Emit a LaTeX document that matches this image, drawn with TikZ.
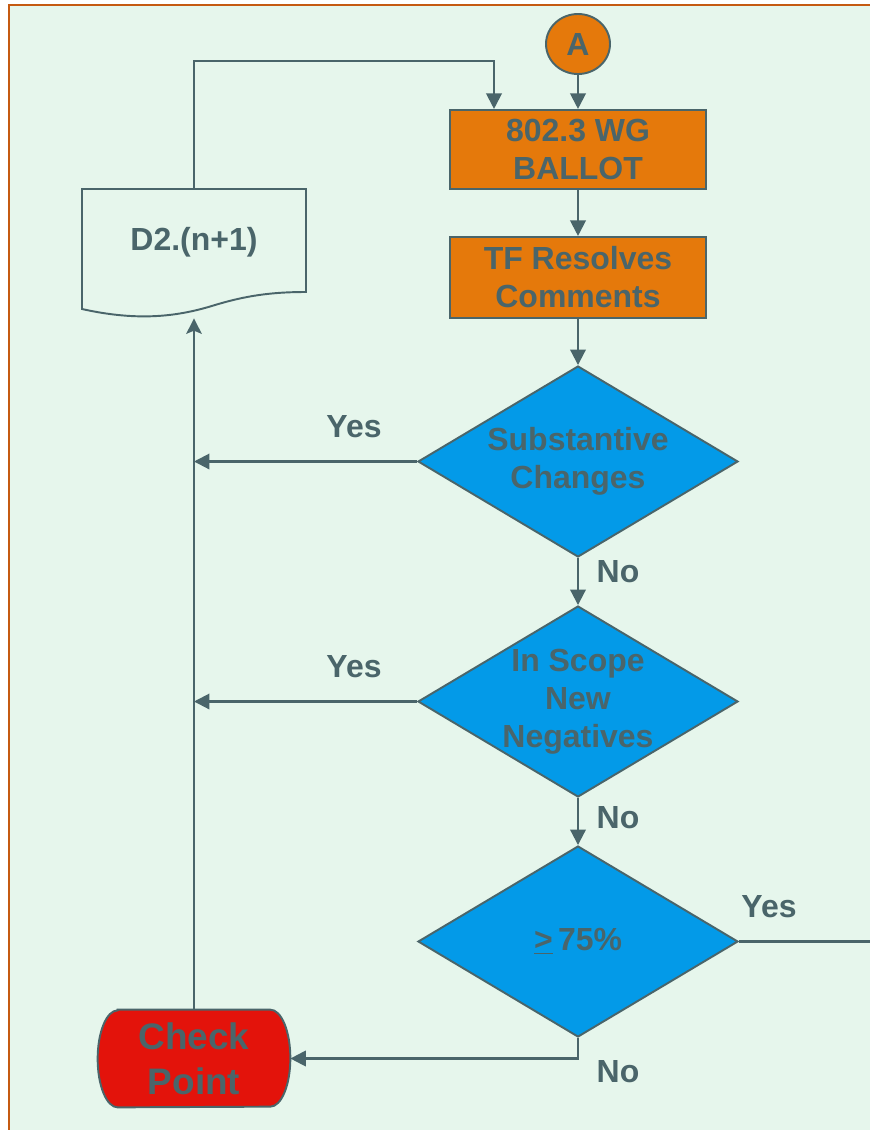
\documentclass[tikz,border=0pt]{standalone}
\usepackage{fontspec}
\setmainfont{Liberation Sans}
\usetikzlibrary{shapes.geometric,arrows.meta,calc}
\newdimen\pxu \pxu=0.02cm
\definecolor{bgc}{HTML}{E6F6EC}
\definecolor{ink}{HTML}{4A656A}
\definecolor{orng}{HTML}{E5790B}
\definecolor{blu}{HTML}{039AE8}
\definecolor{redc}{HTML}{E3130B}
\definecolor{brd}{HTML}{C55A11}
\begin{document}
\begin{tikzpicture}[x=0.02cm,y=-0.02cm,
  txt/.style={text=ink, font=\bfseries\fontsize{18.2pt}{21.6pt}\selectfont, align=center, inner sep=0pt},
  bigtxt/.style={text=ink, font=\bfseries\fontsize{21pt}{25.5pt}\selectfont, align=center, inner sep=0pt},
  procbox/.style={txt, draw=ink, line width=1.2pt, fill=orng, minimum width=256\pxu},
  decide/.style={shape=diamond, draw=ink, line width=1.1pt, fill=blu, inner sep=0pt, aspect=1.675, minimum width=320\pxu, minimum height=191\pxu},
  arr/.style={draw=ink, line width=1.2pt, -{Triangle[length=8.8pt,width=8.8pt]}},
  oarr/.style={draw=ink, line width=1.2pt, -{Stealth[length=8.8pt,width=8.8pt,inset=1.8pt]}},
  conn/.style={draw=ink, line width=1.2pt}]
\useasboundingbox (0,0) rectangle (870,1130);
\fill[white] (0,0) rectangle (870,1130);
\fill[bgc] (9,5) rectangle (870,1130);
\draw[brd, line width=1.6pt] (9,1130) -- (9,5) -- (870,5);

% nodes
\node (A) [txt, shape=ellipse, draw=ink, line width=1.1pt, fill=orng, minimum width=64\pxu, minimum height=60\pxu] at (578,44) {A};
\node (b1) [procbox, minimum height=79\pxu] at (578,149.5) {802.3 WG\\BALLOT};
\node (b2) [procbox, minimum height=81\pxu] at (578,277.5) {TF Resolves\\Comments};
\node (d1) [decide, label={[txt, name=d1t]center:Substantive\\Changes}] at (578,461.5) {};
\node (d2) [decide, label={[txt, name=d2t]center:In Scope\\New\\Negatives}] at (578,701.5) {};
\node (d3) [decide, label={[txt, name=d3t]center:\underline{>}\,75\%}] at (578,941.5) {};

% document shape
\node (doc) [inner sep=0pt, minimum width=224\pxu, minimum height=121\pxu] at (194,249.5) {};
\draw[ink, line width=1.1pt, fill=bgc] (82,309) -- (82,189) -- (306,189) -- (306,292)
  .. controls (270,292) and (245,296) .. (215,305)
  .. controls (180,316) and (140,322) .. (82,309) -- cycle;
\node (doct) [txt] at (194,242) {D2.(n+1)};

% check point
\node (cp) [inner sep=0pt, minimum width=192\pxu, minimum height=97\pxu] at (194,1058.5) {};
\draw[ink, line width=1.1pt, fill=redc] ($(cp.north west)+(20,0)$) -- ($(cp.north east)+(-20,0)$)
  arc[start angle=90, end angle=-90, x radius=20\pxu, y radius=48.5\pxu]
  -- ($(cp.south west)+(20,0)$)
  arc[start angle=270, end angle=90, x radius=20\pxu, y radius=48.5\pxu] -- cycle;
\node (cpt) [bigtxt] at (194,1058.5) {Check\\Point};

% connectors
\draw[arr] (A) -- (b1);
\draw[arr] (b1) -- (b2);
\draw[arr] (b2) -- (d1);
\draw[arr] (d1) -- (d2);
\draw[arr] (d2) -- (d3);
\draw[arr] (doc.north) |- ($(b1.north)+(-84,-48)$) -- ($(b1.north)+(-84,0)$);
\draw[arr] (d1.west) -- (d1.west -| cp.north);
\draw[arr] (d2.west) -- (d2.west -| cp.north);
\coordinate (docin) at ($(doc.south)+(0,8)$);
\draw[oarr] (cp.north) -- (docin);
\draw[arr] (d3.south) |- (cp.east);
\coordinate (offr) at (870,941.5);
\draw[conn] (d3.east) -- (offr);

% labels
\node (y1) [txt] at (354,427) {Yes};
\node (y2) [txt] at (354,667) {Yes};
\node (y3) [txt] at (769,907) {Yes};
\node (n1) [txt] at (618,572) {No};
\node (n2) [txt] at (618,818) {No};
\node (n3) [txt] at (618,1072) {No};
\end{tikzpicture}
\end{document}
